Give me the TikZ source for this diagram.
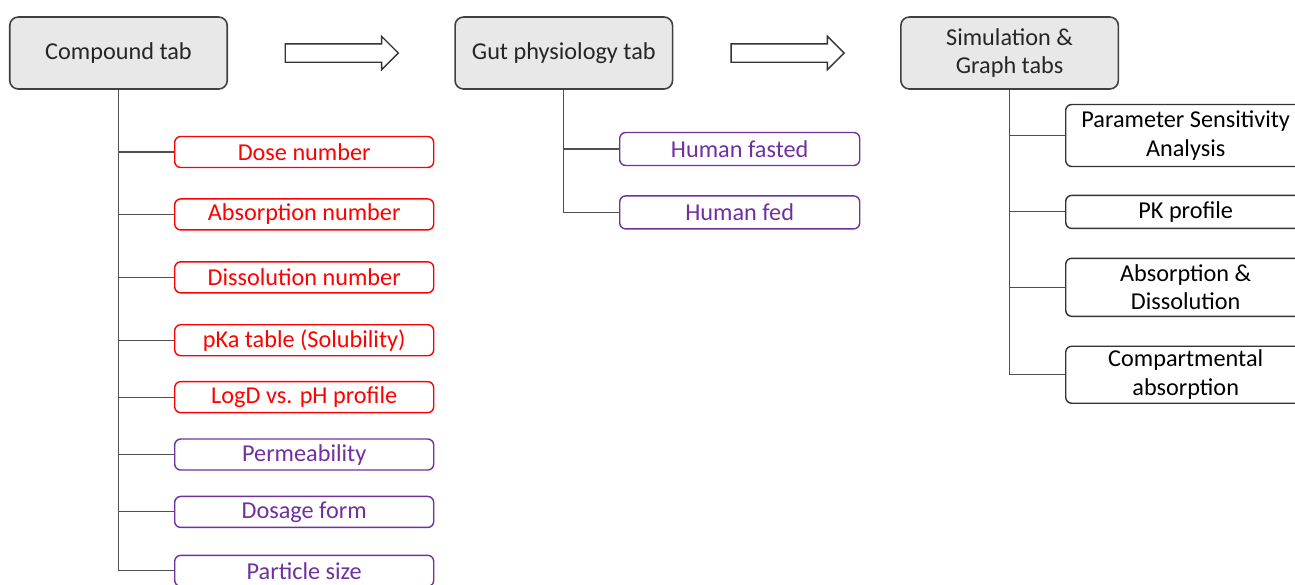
\documentclass[tikz,border=0pt]{standalone}
\usepackage{fontspec}
\setmainfont{Carlito}
\usepackage{tikz}
\usetikzlibrary{positioning, shapes.arrows}
\definecolor{boxgray}{HTML}{E8E8E8}
\definecolor{edgegray}{HTML}{404040}
\definecolor{linegray}{HTML}{505050}
\definecolor{inred}{HTML}{FF0000}
\definecolor{inpurple}{HTML}{7030A0}
\tikzset{
    tabbox/.style={draw=edgegray, fill=boxgray, line width=0.9pt, rounded corners=0.17cm,
      minimum width=4.35cm, minimum height=1.44cm, align=center, text=black!85,
      font=\fontsize{13.8}{15.6}\selectfont},
    leaf/.style={draw, line width=0.8pt, rounded corners=0.12cm, fill=white,
      minimum height=0.62cm, align=center, inner sep=1pt,
      font=\fontsize{13.8}{16.2}\selectfont},
    redleaf/.append style={leaf, draw=inred, text=inred, minimum width=5.18cm},
    purpleleaf/.append style={leaf, draw=inpurple, text=inpurple, minimum width=5.18cm},
    gutleaf/.append style={leaf, draw=inpurple, text=inpurple, minimum width=4.8cm, minimum height=0.66cm},
    simleaf/.append style={leaf, draw=black!80, text=black, minimum width=4.8cm, minimum height=0.66cm},
    blockarrow/.style={single arrow, draw=black!80, fill=white, line width=0.8pt,
      minimum height=2.26cm, inner xsep=0pt, inner ysep=0.17cm, single arrow head extend=0.15cm},
    branch/.style={draw=linegray, line width=0.6pt},
}
\begin{document}
\begin{tikzpicture}
    \useasboundingbox (0,0) rectangle (25.9,-11.68);
    \clip (0,0) rectangle (25.9,-11.68);

    % tabs along the top
    \node[tabbox] (comp) at (2.37,-1.06) {Compound tab};
    \node[blockarrow, right=1.13cm of comp] (arr1) {};
    \node[tabbox, right=1.1cm of arr1] (gut) {Gut physiology tab};
    \node[blockarrow, right=1.14cm of gut] (arr2) {};
    \node[tabbox, right=1.1cm of arr2] (sim) {Simulation \&\\Graph tabs};

    % compound inputs
    \node[redleaf, anchor=west] (dose) at (3.48,-3.04) {Dose number};
    \node[redleaf, below=0.6cm of dose] (absn) {Absorption number};
    \node[redleaf, below=0.61cm of absn] (dissn) {Dissolution number};
    \node[redleaf, below=0.61cm of dissn] (pka) {pKa table (Solubility)};
    \node[redleaf, below=0.49cm of pka] (logd) {LogD vs. pH profile};
    \node[purpleleaf, below=0.5cm of logd] (perm) {Permeability};
    \node[purpleleaf, below=0.5cm of perm] (dosage) {Dosage form};
    \node[purpleleaf, below=0.53cm of dosage] (particle) {Particle size};

    % gut physiology
    \node[gutleaf, anchor=west] (fasted) at (12.38,-2.98) {Human fasted};
    \node[gutleaf, below=0.58cm of fasted] (fed) {Human fed};

    % simulation and graphs
    \node[simleaf, anchor=west, minimum height=1.24cm] (psa) at (21.3,-2.71) {Parameter Sensitivity\\Analysis};
    \node[simleaf, below=0.55cm of psa] (pk) {PK profile};
    \node[simleaf, below=0.57cm of pk, minimum height=1.16cm] (absdiss) {Absorption \&\\Dissolution};
    \node[simleaf, below=0.57cm of absdiss, minimum height=1.14cm] (compart) {Compartmental\\absorption};

    \foreach \n in {dose, absn, dissn, pka, logd, perm, dosage, particle}
      \path[branch] (comp.south) |- (\n.west);
    \foreach \n in {fasted, fed}
      \path[branch] (gut.south) |- (\n.west);
    \foreach \n in {psa, pk, absdiss, compart}
      \path[branch] (sim.south) |- (\n.west);
\end{tikzpicture}
\end{document}
